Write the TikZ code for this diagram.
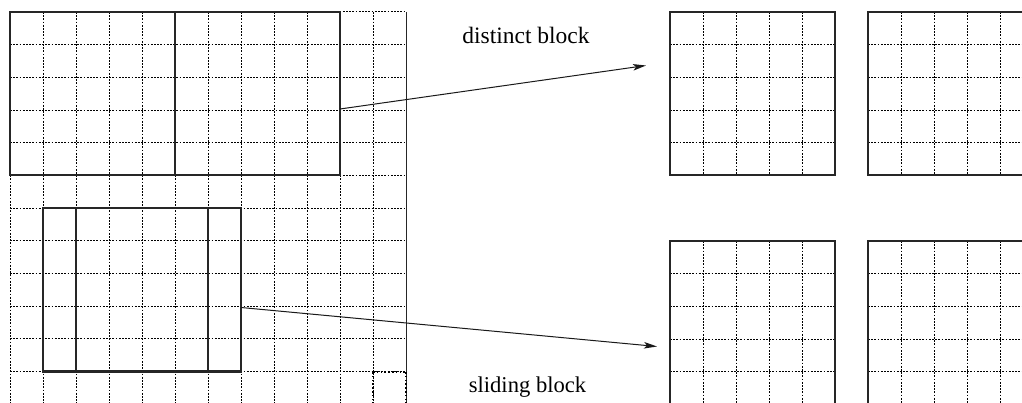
\documentclass[tikz,border=0pt]{standalone}
\usepackage{fontspec}
\setmainfont{Liberation Serif}
\usetikzlibrary{arrows.meta}
\begin{document}
\begin{tikzpicture}[x=1pt,y=-1pt,
  gridline/.style={line width=1pt, dash pattern=on 1.8pt off 1.4pt, black},
  edgeline/.style={line width=0.8pt, black!85},
  boldgrid/.style={line width=1.9pt, dash pattern=on 1.6pt off 2.2pt, black},
  blockbox/.style={draw=black!85, line width=2.2pt, rectangle, inner sep=0pt,
    outer sep=0pt, anchor=north west, minimum width=165pt, minimum height=163.4pt},
  link/.style={line width=1pt, black!90, -{Stealth[length=13pt,width=6.5pt,inset=3pt]}},
  lbl/.style={font=\fontsize{23.5}{26}\selectfont, inner sep=0pt, anchor=base}]
\useasboundingbox (0,0) rectangle (1022,403);
\clip (0,0) rectangle (1022,403);

% cell size of every grid
\def\cw{33}
\def\ch{32.68}

% the whole image grid, 12 x 12 cells
\foreach \i in {0,...,11}
  \draw[gridline] ({10+\cw*\i},12) -- ({10+\cw*\i},410);
\foreach \j in {0,...,12}
  \draw[gridline] (10,{12+\ch*\j}) -- (406,{12+\ch*\j});
\draw[edgeline] (406,12) -- (406,410);
\draw[boldgrid] (373,372) -- (406,372) (373,372) -- (373,410) (406,372) -- (406,410);

% distinct (non-overlapping) blocks
\node[blockbox] (d1) at (10,12) {};
\node[blockbox] (d2) at (175,12) {};

% sliding (overlapping) blocks
\node[blockbox] (s1) at (43,208) {};
\node[blockbox] (s2) at (76,208) {};

% extracted 5 x 5 blocks
\foreach \nm/\x/\y in {b1/670/12, b2/868/12, b3/670/241, b4/868/241} {
  \foreach \k in {1,...,4} {
    \draw[gridline] ({\x+\cw*\k},\y) -- ({\x+\cw*\k},{\y+5*\ch});
    \draw[gridline] (\x,{\y+\ch*\k}) -- ({\x+5*\cw},{\y+\ch*\k});
  }
  \node[blockbox] (\nm) at (\x,\y) {};
}

% connectors
\coordinate (dstart) at (d2.east |- 0,109);
\coordinate (dend) at (646,65.5);
\coordinate (sstart) at (s2.east |- 0,307.5);
\coordinate (send) at (657,346.5);
\draw[link] (dstart) -- (dend);
\draw[link] (sstart) -- (send);

% labels
\node[lbl] (dlabel) at (526,44) {distinct block};
\node[lbl, font=\fontsize{22.6}{26}\selectfont] (slabel) at (527.5,392) {sliding block};
\end{tikzpicture}
\end{document}
